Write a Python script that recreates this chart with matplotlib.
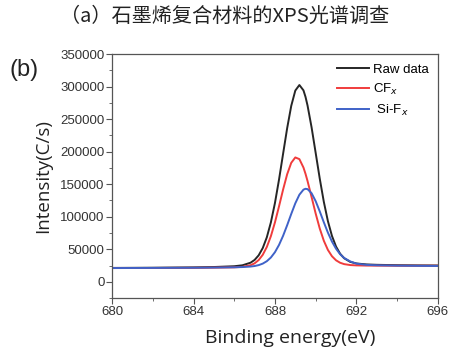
import matplotlib.pyplot as plt
from matplotlib.ticker import MultipleLocator

# binding energy grid (eV)
energy = [680, 682, 684, 685, 686, 686.4, 686.8, 687.0, 687.2, 687.4, 687.6,
          687.8, 688.0, 688.2, 688.4, 688.6, 688.8, 689.0, 689.2, 689.4,
          689.5, 689.6, 689.8, 690.0, 690.2, 690.4, 690.6, 690.8, 691.0,
          691.2, 691.4, 691.7, 692.0, 692.5, 693, 694, 695, 696]

raw_data = [21300, 21600, 22150, 22700, 23900, 25330, 29300, 33570, 40660,
            51800, 68300, 91300, 121100, 157100, 196800, 236200, 270400,
            293950, 302460, 294270, 284310, 271060, 237180, 198050, 158640,
            122930, 93280, 70460, 54140, 43120, 36150, 30560, 28150, 26660,
            26080, 25510, 25220, 25060]

cf_x = [21090, 21240, 21470, 21720, 22200, 22940, 25430, 28350, 33380,
        41440, 53470, 70100, 91300, 115990, 141770, 165320, 182870, 191150,
        188540, 175620, 166040, 154940, 130140, 104860, 81900, 63100, 49000,
        39250, 33010, 29250, 27140, 25700, 25200, 24890, 24790, 24680,
        24650, 24650]

si_f_x = [21120, 21300, 21560, 21830, 22270, 22640, 23410, 24210, 25610,
          27920, 31630, 37310, 45490, 56650, 70680, 86980, 104270, 120650,
          133840, 141620, 142960, 142470, 136090, 123900, 108230, 91490,
          75600, 61820, 50760, 42410, 36540, 31230, 27900, 26000, 25400,
          24800, 24500, 24300]

plt.rcParams['font.family'] = ['Liberation Sans', 'DejaVu Sans']

fig = plt.figure(figsize=(4.5, 3.49), dpi=100)
ax = fig.add_axes([0.249, 0.146, 0.724, 0.699])

ax.plot(energy, raw_data, color='#262626', lw=1.4, label='Raw data')
ax.plot(energy, cf_x, color='#f03c3c', lw=1.4, label='CF$_x$')
ax.plot(energy, si_f_x, color='#3f62c8', lw=1.4, label=' Si-F$_x$')

ax.set_xlim(680, 696)
ax.set_ylim(-25000, 350000)
ax.xaxis.set_major_locator(MultipleLocator(4))
ax.xaxis.set_minor_locator(MultipleLocator(2))
ax.yaxis.set_major_locator(MultipleLocator(50000))
ax.yaxis.set_minor_locator(MultipleLocator(25000))
ax.tick_params(which='both', direction='out', colors='#555555',
               labelcolor='#333333', labelsize=9.5)
ax.tick_params(which='major', length=4, pad=1.5)
ax.tick_params(which='minor', length=2.5)
for s in ax.spines.values():
    s.set_color('#555555')
    s.set_linewidth(0.9)

ax.set_xlabel('Binding energy(eV)', fontsize=14, family=['Open Sans', 'DejaVu Sans'],
              color='#222222')
ax.xaxis.set_label_coords(0.546, -0.125)
ax.set_ylabel('Intensity(C/s)', fontsize=13.5, family=['Open Sans', 'DejaVu Sans'],
              color='#222222', labelpad=6)

leg = ax.legend(loc='upper right', frameon=False, fontsize=9.5,
                handlelength=2.4, handletextpad=0.3, labelspacing=0.45,
                borderaxespad=0.3)

fig.text(0.5, 0.952, '（a）石墨烯复合材料的XPS光谱调查', ha='center', va='center',
         fontsize=14.5, family=['Noto Sans CJK SC', 'DejaVu Sans'], color='#222222')
fig.text(0.022, 0.80, '(b)', fontsize=17, color='#222222', va='center')

fig.savefig('out.png', dpi=100)
